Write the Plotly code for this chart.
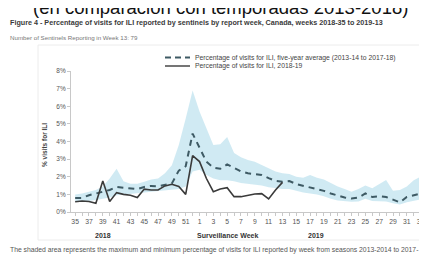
import plotly.graph_objects as go

weeks = [35, 36, 37, 38, 39, 40, 41, 42, 43, 44, 45, 46, 47, 48, 49, 50, 51, 52,
         1, 2, 3, 4, 5, 6, 7, 8, 9, 10, 11, 12, 13, 14, 15, 16, 17, 18, 19, 20,
         21, 22, 23, 24, 25, 26, 27, 28, 29, 30, 31, 32, 33, 34]

avg_5yr = [0.80, 0.80, 0.95, 1.05, 1.15, 1.25, 1.42, 1.38, 1.33, 1.30, 1.42, 1.48,
           1.45, 1.55, 1.62, 2.35, 2.60, 4.45, 3.60, 2.85, 2.52, 2.45, 2.70, 2.50,
           2.30, 2.20, 2.15, 2.10, 1.92, 1.76, 1.72, 1.76, 1.58, 1.48, 1.38, 1.32,
           1.20, 1.05, 0.92, 0.82, 0.76, 0.82, 1.05, 0.85, 0.90, 0.85, 0.70, 0.55,
           0.85, 0.95, 1.05, 0.85]

season_2018_19 = [0.58, 0.62, 0.60, 0.50, 1.76, 0.60, 1.10, 1.00, 0.95, 0.82, 1.30,
                  1.25, 1.25, 1.48, 1.57, 1.45, 1.00, 3.20, 2.86, 1.90, 1.15, 1.30,
                  1.38, 0.87, 0.87, 0.95, 1.02, 1.04, 0.74, 1.25, 1.68]

band_max = [1.00, 1.05, 1.15, 1.25, 1.45, 1.90, 2.45, 1.75, 1.60, 1.60, 1.72, 1.85,
            1.90, 2.20, 2.65, 3.80, 5.30, 6.90, 5.70, 4.70, 3.80, 3.85, 4.25, 3.35,
            3.10, 2.95, 2.85, 2.67, 2.50, 2.30, 2.20, 2.15, 2.00, 1.95, 2.10, 1.95,
            1.85, 1.65, 1.45, 1.30, 1.15, 1.30, 1.50, 1.35, 1.60, 1.82, 1.20, 1.25,
            1.45, 1.80, 2.00, 1.20]

band_min = [0.60, 0.60, 0.62, 0.68, 0.75, 0.82, 0.95, 0.98, 1.00, 1.05, 1.10, 1.15,
            1.18, 1.25, 1.25, 1.30, 1.45, 2.30, 2.40, 2.10, 1.90, 1.80, 1.80, 1.75,
            1.65, 1.60, 1.55, 1.50, 1.40, 1.35, 1.30, 1.30, 1.20, 1.10, 1.05, 1.00,
            0.90, 0.75, 0.65, 0.60, 0.58, 0.60, 0.75, 0.62, 0.60, 0.60, 0.50, 0.42,
            0.55, 0.65, 0.72, 0.55]

y_ticks = [0, 1, 2, 3, 4, 5, 6, 7, 8]
y_ticktext = ["0%", "1%", "2%", "3%", "4%", "5%", "6%", "7%", "8%"]

title_es = "(en comparación con temporadas 2013-2018)"
fig_title = ("Figure 4 - Percentage of visits for ILI reported by sentinels by report week, "
             "Canada, weeks 2018-35 to 2019-13")
subtitle = "Number of Sentinels Reporting in Week 13: 79"
legend_avg = "Percentage of visits for ILI, five-year average (2013-14 to 2017-18)"
legend_cur = "Percentage of visits for ILI, 2018-19"
y_title = "% visits for ILI"
x_title = "Surveillance Week"
year_labels = ["2018", "2019"]
footnote1 = ("The shaded area represents the maximum and minimum percentage of visits for ILI "
             "reported by week from seasons 2013-2014 to 2017-")
footnote2 = "2018"

W, H = 427, 258
L, R, T, B = 63, 4, 63, 54
PW, PH = W - L - R, H - T - B


def px(x):
    return (x - L) / PW


def py(y):
    return (H - B - y) / PH


idx = list(range(len(weeks)))
tick_text = [str(w) if i % 2 == 0 else "" for i, w in enumerate(weeks)]

band_col = "rgba(200,230,241,0.85)"
dash_col = "#3e5a64"
solid_col = "#3a3a3a"

fig = go.Figure()
fig.add_trace(go.Scatter(x=idx, y=band_min, mode="lines", line=dict(width=0),
                         showlegend=False, hoverinfo="skip"))
fig.add_trace(go.Scatter(x=idx, y=band_max, mode="lines", line=dict(width=0),
                         fill="tonexty", fillcolor=band_col, showlegend=False,
                         hoverinfo="skip"))
fig.add_trace(go.Scatter(x=idx, y=avg_5yr, mode="lines",
                         line=dict(color=dash_col, width=2, dash="6px,5px"),
                         name=legend_avg, showlegend=False))
fig.add_trace(go.Scatter(x=idx[:len(season_2018_19)], y=season_2018_19, mode="lines",
                         line=dict(color=solid_col, width=1.6),
                         name=legend_cur, showlegend=False))

fig.update_xaxes(range=[-0.6, 51.5], tickvals=idx, ticktext=tick_text,
                 showgrid=False, zeroline=False, showline=True, linecolor="#c8c8c8",
                 linewidth=1, ticks="outside", ticklen=3, tickcolor="#c8c8c8",
                 tickfont=dict(size=6.8, color="#555", family="Liberation Sans"))
fig.update_yaxes(range=[0, 8], tickvals=y_ticks, ticktext=y_ticktext,
                 showgrid=False, zeroline=False, showline=True, linecolor="#c8c8c8",
                 linewidth=1, ticks="outside", ticklen=3, tickcolor="#c8c8c8",
                 tickfont=dict(size=6.5, color="#555", family="Liberation Sans"))

ann = []


def add_text(text, x, y, size, color="#444", bold=False, xanchor="left",
             yanchor="middle", angle=0):
    ann.append(dict(text=("<b>%s</b>" % text) if bold else text, x=px(x), y=py(y),
                    xref="paper", yref="paper", showarrow=False, xanchor=xanchor,
                    yanchor=yanchor, textangle=angle,
                    font=dict(size=size, color=color, family="Liberation Sans")))


add_text(title_es, 212, -1, 18.5, color="#111", xanchor="center")
add_text(fig_title, 0, 15, 7.2, color="#3a3a3a", bold=True)
add_text(subtitle, 0, 29, 6.2, color="#777")
add_text(legend_avg, 185, 49.5, 6.8, color="#444")
add_text(legend_cur, 185, 58, 6.8, color="#444")
add_text(y_title, 36, 137, 6.5, color="#444", bold=True, xanchor="center", angle=-90)
add_text(year_labels[0], 95, 227, 7, color="#333", bold=True, xanchor="center")
add_text(x_title, 219, 227, 7, color="#333", bold=True, xanchor="center")
add_text(year_labels[1], 308, 227, 7, color="#333", bold=True, xanchor="center")
add_text(footnote1, 0, 242, 6.8, color="#555")
add_text(footnote2, 0, 252, 6.2, color="#555")

shapes = [
    dict(type="line", xref="paper", yref="paper", x0=px(157), x1=px(182), y0=py(49.5), y1=py(49.5),
         line=dict(color=dash_col, width=2, dash="6px,4px")),
    dict(type="line", xref="paper", yref="paper", x0=px(157), x1=px(182), y0=py(58), y1=py(58),
         line=dict(color=solid_col, width=1.4)),
    dict(type="rect", xref="paper", yref="paper", x0=px(30), x1=px(426), y0=py(37), y1=py(232),
         line=dict(color="#ececec", width=1), fillcolor="rgba(0,0,0,0)", layer="below"),
]

fig.update_layout(width=W, height=H, margin=dict(l=L, r=R, t=T, b=B),
                  paper_bgcolor="white", plot_bgcolor="white",
                  showlegend=False, annotations=ann, shapes=shapes)

fig.write_html("out.html")
